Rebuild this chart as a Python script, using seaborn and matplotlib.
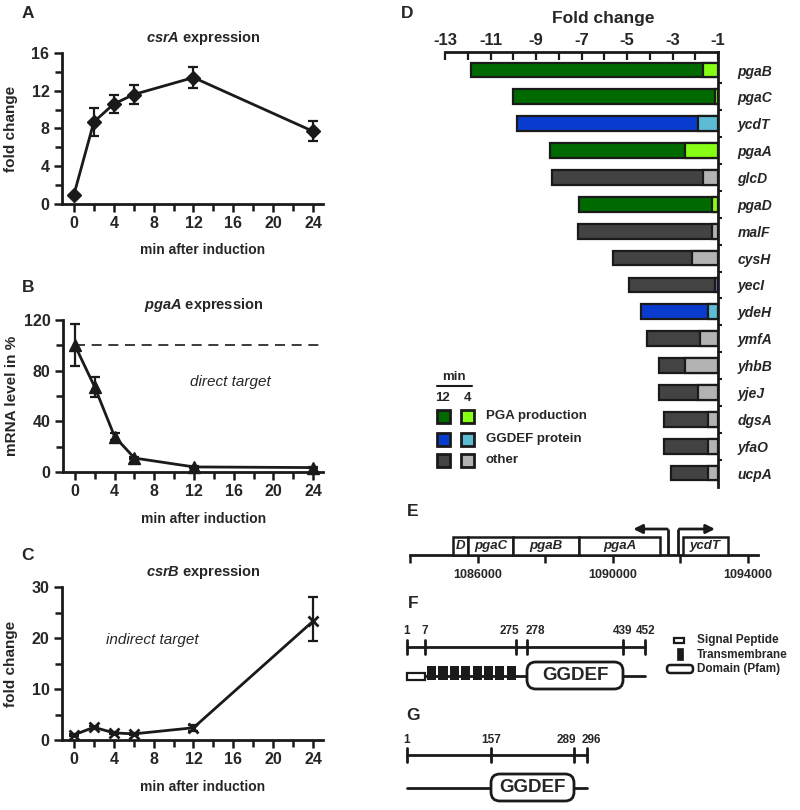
import matplotlib
matplotlib.use("Agg")
import matplotlib.pyplot as plt
from matplotlib.patches import Rectangle, FancyBboxPatch
from matplotlib.ticker import MultipleLocator
import numpy as np
import seaborn as sns

# ---------------------------------------------------------------- data
minutes = [0, 2, 4, 6, 12, 24]

csrA_fold = [1.0, 8.7, 10.6, 11.6, 13.4, 7.7]
csrA_err = [0.0, 1.5, 0.95, 1.0, 1.15, 1.05]

pgaA_level = [100, 67, 28, 11, 4, 3.5]
pgaA_err = [16.5, 8, 2.5, 1.0, 0.5, 0.5]

csrB_fold = [1.0, 2.5, 1.4, 1.2, 2.4, 23.3]
csrB_err_lo = [0.2, 0.3, 0.2, 0.2, 0.6, 3.9]
csrB_err_hi = [0.2, 0.3, 0.2, 0.2, 0.6, 4.7]

genes = ["pgaB", "pgaC", "ycdT", "pgaA", "glcD", "pgaD", "malF", "cysH",
         "yecI", "ydeH", "ymfA", "yhbB", "yjeJ", "dgsA", "yfaO", "ucpA"]
fold_12min = [-11.86, -10.0, -9.82, -8.38, -8.31, -7.11, -7.14, -5.60,
              -4.91, -4.40, -4.11, -3.59, -3.59, -3.37, -3.37, -3.08]
fold_4min = [-1.67, -1.13, -1.87, -2.45, -1.65, -1.28, -1.28, -2.16,
             -1.13, -1.43, -1.79, -2.45, -1.87, -1.43, -1.43, -1.43]
gene_class = ["pga", "pga", "ggdef", "pga", "other", "pga", "other", "other",
              "other", "ggdef", "other", "other", "other", "other", "other", "other"]
class_labels = {"pga": "PGA production", "ggdef": "GGDEF protein", "other": "other"}

# operon map (genome coordinates, bp)
operon_genes = ["D", "pgaC", "pgaB", "pgaA", "ycdT"]
operon_start = [1085274, 1085719, 1087061, 1089007, 1092089]
operon_end = [1085719, 1087061, 1089007, 1091407, 1093422]
promoter_pos = [1091653, 1091950]
promoter_tip = [1090616, 1093037]
map_ticks = [1084000, 1086000, 1088000, 1090000, 1092000, 1094000]

# domain schematics (residue numbers)
ycdT_res = ["1", "7", "275", "278", "439", "452"]
ydeH_res = ["1", "157", "289", "296"]
n_tm = 8

# ---------------------------------------------------------------- style
DARK = {"pga": "#006a00", "ggdef": "#0a3bcf", "other": "#434343"}
LIGHT = {"pga": "#86ff14", "ggdef": "#5cbcd4", "other": "#b3b3b3"}
light_colors = [LIGHT[c] for c in gene_class]
light_colors[genes.index("yecI")] = "#6f73c4"

sns.set_theme(style="ticks")
plt.rcParams["font.family"] = ["Liberation Sans", "DejaVu Sans"]
plt.rcParams["mathtext.fontset"] = "custom"
plt.rcParams["mathtext.it"] = "Liberation Sans:bold:italic"
plt.rcParams["mathtext.rm"] = "Liberation Sans:bold"
plt.rcParams["font.weight"] = "bold"
plt.rcParams["axes.labelweight"] = "bold"

W, H = 800, 810
fig = plt.figure(figsize=(W / 100, H / 100), dpi=100)
fig.patch.set_facecolor("white")


def px_axes(x0, y0, x1, y1):
    return fig.add_axes([x0 / W, 1 - y1 / H, (x1 - x0) / W, (y1 - y0) / H])


def time_panel(box, y, lo, hi, marker, ms, ylim, ymajor, title, ylabel, note=None):
    ax = px_axes(*box)
    ax.set_facecolor("none")
    sns.lineplot(x=minutes, y=y, ax=ax, color="k", lw=2, marker=marker, ms=ms,
                 mec="k", mfc="k", mew=2 if marker == "x" else 1)
    ax.errorbar(minutes, y, yerr=[lo, hi], fmt="none", ecolor="k",
                elinewidth=1.6, capsize=3.5, capthick=1.6)
    ax.set_xlim(-1.2, 25.0)
    ax.set_ylim(*ylim)
    ax.xaxis.set_major_locator(MultipleLocator(4))
    ax.xaxis.set_minor_locator(MultipleLocator(2))
    ax.yaxis.set_major_locator(MultipleLocator(ymajor))
    ax.yaxis.set_minor_locator(MultipleLocator(ymajor / 2))
    for s in ["top", "right"]:
        ax.spines[s].set_visible(False)
    for s in ["left", "bottom"]:
        ax.spines[s].set_linewidth(2)
        ax.spines[s].set_color("k")
    ax.tick_params(which="both", direction="out", width=1.8, color="k",
                   labelsize=11.5, pad=3)
    ax.tick_params(which="major", length=6)
    ax.tick_params(which="minor", length=5)
    for lab in ax.get_xticklabels() + ax.get_yticklabels():
        lab.set_fontweight("bold")
    ax.set_xlabel("min after induction", fontsize=10, fontweight="bold")
    ax.set_ylabel(ylabel, fontsize=11, fontweight="bold")
    ax.xaxis.set_label_coords(0.54, -0.26)
    ax.yaxis.set_label_coords(-0.17, 0.5)
    ax.text(0.54, 1.1, title, transform=ax.transAxes, ha="center", va="center",
            fontsize=10.5, fontweight="bold")
    if note:
        ax.text(note[0], note[1], note[2], ha="center", va="center",
                fontsize=11, fontstyle="italic", fontweight="normal")
    for c in ax.get_children():
        c.set_clip_on(False)
    return ax


axA = time_panel((62, 53, 323, 204), csrA_fold, csrA_err, csrA_err, "D", 7,
                 (0, 16), 4, r"$\mathit{csrA}$ expression", "fold change")
axB = time_panel((63, 320, 323, 472), pgaA_level, pgaA_err, pgaA_err, "^", 8.5,
                 (0, 120), 40, r"$\mathit{pgaA}$ expression", "mRNA level in %",
                 note=(15.7, 71, "direct target"))
axB.plot([0, 25], [100, 100], ls=(0, (6, 4)), color="k", lw=1.2)
axB.yaxis.set_minor_locator(MultipleLocator(20))
axC = time_panel((62, 587, 323, 740), csrB_fold, csrB_err_lo, csrB_err_hi, "x", 7,
                 (0, 30), 10, r"$\mathit{csrB}$ expression", "fold change",
                 note=(7.9, 19.6, "indirect target"))

# ---------------------------------------------------------------- panel D
axD = px_axes(445, 52, 718, 487)
axD.set_facecolor("none")
ypos = np.arange(len(genes))
axD.barh(ypos, [v + 1 for v in fold_12min], left=-1, height=0.55,
         color=[DARK[c] for c in gene_class], edgecolor="k", lw=1.6, zorder=2)
axD.barh(ypos, [v + 1 for v in fold_4min], left=-1, height=0.55,
         color=light_colors, edgecolor="k", lw=1.6, zorder=3)
axD.set_xlim(-13, -1)
axD.set_ylim(len(genes) - 0.48, -0.67)
axD.xaxis.tick_top()
axD.xaxis.set_minor_locator(MultipleLocator(1))
axD.set_xticks(np.arange(-13, 0, 2))
axD.set_xticklabels([str(v) for v in range(-13, 0, 2)])
axD.yaxis.tick_right()
axD.set_yticks(ypos)
axD.set_yticklabels(genes)
axD.set_yticks(ypos[:-1] + 0.5, minor=True)
for s in ["left", "bottom"]:
    axD.spines[s].set_visible(False)
for s in ["top", "right"]:
    axD.spines[s].set_linewidth(2)
    axD.spines[s].set_color("k")
axD.tick_params(axis="x", which="both", direction="in", width=1.6, color="k",
                labelsize=12, pad=3, top=True, bottom=False, length=6)
axD.tick_params(axis="y", which="major", length=0, pad=14, labelsize=10)
axD.tick_params(axis="y", which="minor", direction="out", length=3, width=1.5,
                color="k", right=True, left=False)
for lab in axD.get_xticklabels():
    lab.set_fontweight("bold")
for lab in axD.get_yticklabels():
    lab.set_fontweight("bold")
    lab.set_fontstyle("italic")
fig.text(603 / W, 1 - 18 / H, "Fold change", ha="center", va="center",
         fontsize=12.5, fontweight="bold")

# ---------------------------------------------------------------- panel E
axE = px_axes(410, 520, 758, 585)
axE.set_facecolor("none")
axE.set_xlim(1084000, 1084000 + 348 * 2000 / 67.5)
axE.set_ylim(-1.67, 1.94)
for s in ["top", "right", "left"]:
    axE.spines[s].set_visible(False)
axE.spines["bottom"].set_position(("data", 0))
axE.spines["bottom"].set_linewidth(2)
axE.spines["bottom"].set_color("k")
axE.set_yticks([])
axE.set_xticks(map_ticks[1::2])
axE.set_xticklabels([str(t) for t in map_ticks[1::2]])
axE.set_xticks(map_ticks[0::2], minor=True)
axE.tick_params(axis="x", which="both", direction="out", length=6, width=1.8,
                color="k", labelsize=9, pad=4)
for lab in axE.get_xticklabels():
    lab.set_fontweight("bold")
for name, s, e in zip(operon_genes, operon_start, operon_end):
    axE.add_patch(Rectangle((s, 0), e - s, 1.0, fc="white", ec="k", lw=1.8,
                            zorder=3, clip_on=False))
    axE.text((s + e) / 2, 0.5, name, ha="center", va="center", fontsize=9.5,
             fontweight="bold", fontstyle="italic", zorder=4)
for p, t in zip(promoter_pos, promoter_tip):
    axE.plot([p, p], [0, 1.44], color="k", lw=2, solid_capstyle="butt", zorder=4)
    axE.annotate("", xy=(t, 1.44), xytext=(p - (1 if t < p else -1) * 30, 1.44),
                 arrowprops=dict(arrowstyle="-|>", lw=2, color="k",
                                 mutation_scale=13, shrinkA=0, shrinkB=0),
                 zorder=4)

# ---------------------------------------------------------------- overlay (letters, legend, F, G)
ov = fig.add_axes([0, 0, 1, 1])
ov.set_xlim(0, W)
ov.set_ylim(H, 0)
ov.axis("off")
ov.patch.set_alpha(0)

for letter, (x, y) in {"A": (28, 13), "B": (28, 288), "C": (28, 555),
                       "D": (407, 13), "E": (413, 512), "F": (413, 603),
                       "G": (413, 715)}.items():
    ov.text(x, y, letter, ha="center", va="center", fontsize=12.5, fontweight="bold")

# legend of panel D
ov.text(454, 377, "min", ha="center", va="center", fontsize=9.5, fontweight="bold")
ov.plot([437, 472], [386, 386], color="k", lw=1.5)
ov.text(443, 398, "12", ha="center", va="center", fontsize=9.5, fontweight="bold")
ov.text(467, 398, "4", ha="center", va="center", fontsize=9.5, fontweight="bold")
for i, key in enumerate(["pga", "ggdef", "other"]):
    yc = [416, 439, 460][i]
    ov.add_patch(Rectangle((436.5, yc - 6.5), 13, 13, fc=DARK[key], ec="k", lw=2))
    ov.add_patch(Rectangle((460.5, yc - 6.5), 13, 13, fc=LIGHT[key], ec="k", lw=2))
    ov.text(486, yc, class_labels[key], ha="left", va="center", fontsize=9.5,
            fontweight="bold")

# panel F schematic
F_x = [407, 425, 516, 527, 623, 645]
F_lab = [(407, "center"), (425, "center"), (519, "right"), (526, "left"),
         (623, "center"), (646, "center")]
ov.plot([F_x[0], F_x[-1]], [647, 647], color="k", lw=2)
for x in F_x:
    ov.plot([x, x], [640, 654], color="k", lw=2)
for (lx, ha), r in zip(F_lab, ycdT_res):
    ov.text(lx, 631, r, ha=ha, va="center", fontsize=8.5, fontweight="bold")
ov.plot([F_x[0], F_x[-1]], [676, 676], color="k", lw=2, zorder=1)
ov.add_patch(Rectangle((407, 673), 18, 7, fc="white", ec="k", lw=1.6, zorder=2))
tm_w = (518 - 427) / n_tm
for i in range(n_tm):
    ov.add_patch(Rectangle((427 + i * tm_w, 665.5), tm_w - 2.2, 14.5, fc="k",
                           ec="none", zorder=2))
ov.add_patch(FancyBboxPatch((527, 662), 96, 27, boxstyle="round,pad=0,rounding_size=9",
                            fc="white", ec="k", lw=2, zorder=2))
ov.text(575, 676, "GGDEF", ha="center", va="center", fontsize=13.5,
        fontweight="bold", zorder=3)

# legend F
ov.add_patch(Rectangle((674, 638), 10, 5, fc="white", ec="k", lw=1.6))
ov.add_patch(Rectangle((676.5, 648), 6, 12, fc="k", ec="k", lw=0.5))
ov.add_patch(FancyBboxPatch((667, 665), 26, 8, boxstyle="round,pad=0,rounding_size=3.5",
                            fc="white", ec="k", lw=1.8))
for yt, t in [(640, "Signal Peptide"), (655, "Transmembrane"), (669, "Domain (Pfam)")]:
    ov.text(697, yt, t, ha="left", va="center", fontsize=8.5, fontweight="bold")

# panel G schematic
G_x = [407, 491, 574, 587]
G_lab = [(407, "center"), (491, "center"), (576, "right"), (582, "left")]
ov.plot([G_x[0], G_x[-1]], [755, 755], color="k", lw=2)
for x in G_x:
    ov.plot([x, x], [748, 762], color="k", lw=2)
for (lx, ha), r in zip(G_lab, ydeH_res):
    ov.text(lx, 740, r, ha=ha, va="center", fontsize=8.5, fontweight="bold")
ov.plot([G_x[0], G_x[-1]], [788, 788], color="k", lw=2, zorder=1)
ov.add_patch(FancyBboxPatch((491, 774), 83, 27, boxstyle="round,pad=0,rounding_size=9",
                            fc="white", ec="k", lw=2, zorder=2))
ov.text(532.5, 788, "GGDEF", ha="center", va="center", fontsize=13.5,
        fontweight="bold", zorder=3)

fig.savefig("out.png", dpi=100, facecolor="white")
